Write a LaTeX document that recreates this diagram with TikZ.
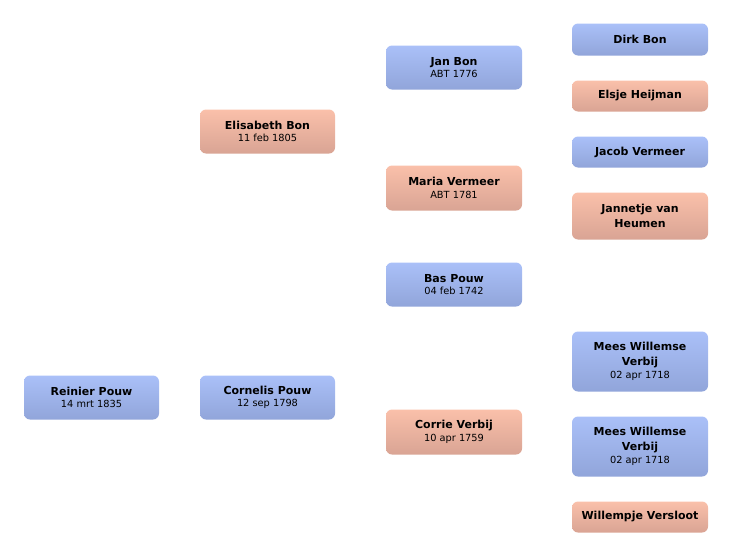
\documentclass[tikz,border=0pt]{standalone}
\usepackage{fontspec}
\newfontfamily\lucfont{DejaVu Sans}
\definecolor{mtop}{RGB}{170,192,248}
\definecolor{mbot}{RGB}{145,165,218}
\definecolor{ftop}{RGB}{250,192,170}
\definecolor{fbot}{RGB}{217,164,148}
\tikzset{
  person/.style={rounded corners=6pt, minimum width=136pt, inner sep=0pt, align=center,
    font=\lucfont\fontsize{11}{15}\selectfont\bfseries, text=black},
  male/.style={person, top color=mtop, bottom color=mbot},
  female/.style={person, top color=ftop, bottom color=fbot},
}
\newcommand{\dt}[1]{\\[-2.5pt]{\mdseries\fontsize{9.8}{11}\selectfont #1}}
\begin{document}
\begin{tikzpicture}[x=1pt,y=-1pt]
\useasboundingbox (0,0) rectangle (732,557);
\node[male, minimum height=44pt, minimum width=135pt] (reinier) at (91.5,397.5) {Reinier Pouw\dt{14 mrt 1835}};
\node[male, minimum height=44pt, minimum width=135pt] (cornelis) at (267.5,397.5) {Cornelis Pouw\dt{12 sep 1798}};
\node[female, minimum height=44pt, minimum width=135pt] (elisabeth) at (267.5,131.5) {Elisabeth Bon\dt{11 feb 1805}};
\node[male, minimum height=44pt] (janbon) at (454,67.5) {Jan Bon\dt{ABT 1776}};
\node[female, minimum height=45pt] (maria) at (454,188) {Maria Vermeer\dt{ABT 1781}};
\node[male, minimum height=44pt] (bas) at (454,284.5) {Bas Pouw\dt{04 feb 1742}};
\node[female, minimum height=45pt] (corrie) at (454,432) {Corrie Verbij\dt{10 apr 1759}};
\node[male, minimum height=32pt] (dirk) at (640,39.5) {Dirk Bon};
\node[female, minimum height=31pt] (elsje) at (640,96) {Elsje Heijman};
\node[male, minimum height=31pt] (jacob) at (640,152) {Jacob Vermeer};
\node[female, minimum height=47pt] (jannetje) at (640,216) {Jannetje van\\Heumen};
\node[male, minimum height=60pt] (mees1) at (640,361.5) {Mees Willemse\\Verbij\dt{02 apr 1718}};
\node[male, minimum height=60pt] (mees2) at (640,446.5) {Mees Willemse\\Verbij\dt{02 apr 1718}};
\node[female, minimum height=31pt] (willempje) at (640,517) {Willempje Versloot};
\end{tikzpicture}
\end{document}
